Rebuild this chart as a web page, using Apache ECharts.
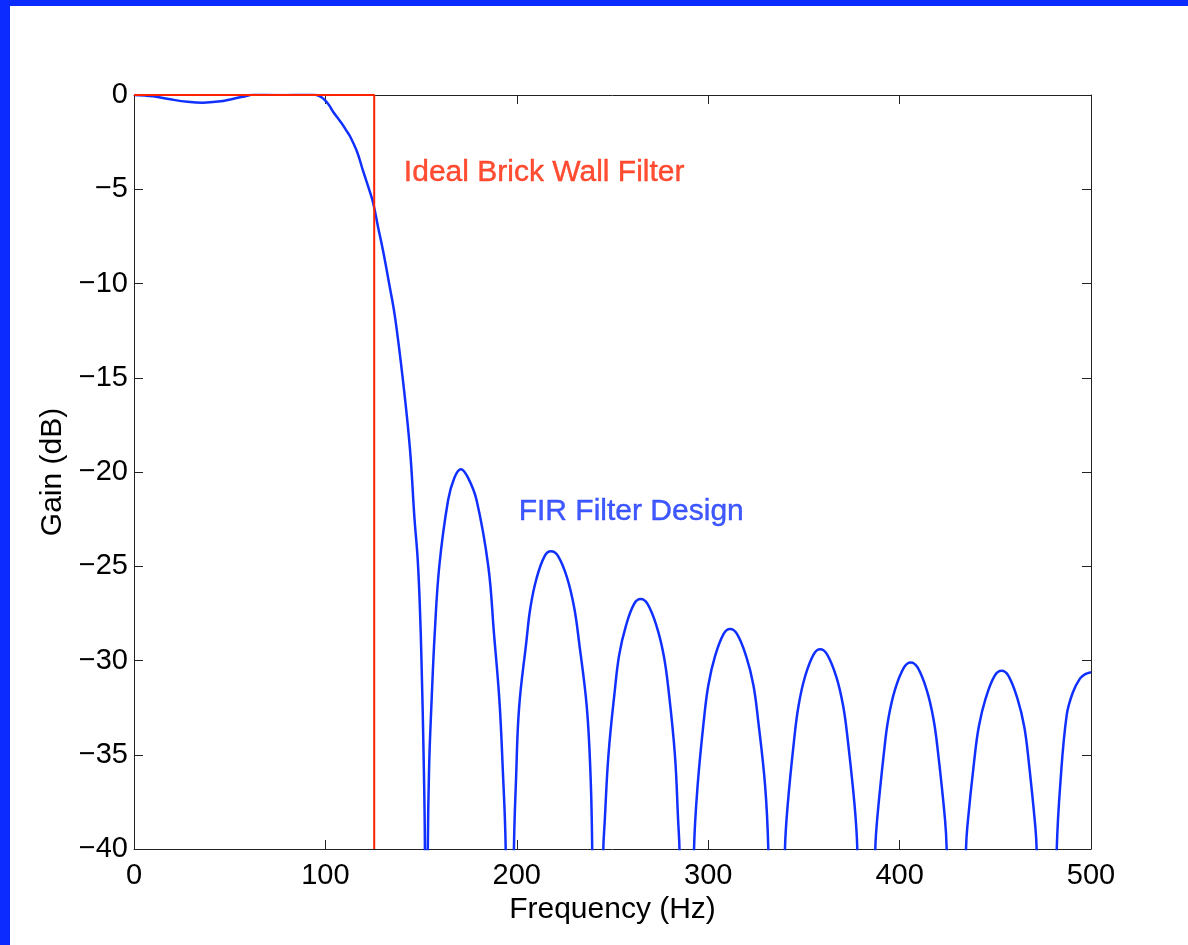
<!DOCTYPE html>
<html>
<head>
<meta charset="utf-8">
<title>FIR Filter Design vs Ideal Brick Wall Filter</title>
<script src="https://cdn.jsdelivr.net/npm/echarts@6.0.0/dist/echarts.min.js"></script>
<style>
  html, body { margin: 0; padding: 0; background: #fff; }
  #frame { position: relative; width: 1188px; height: 945px; overflow: hidden; }
  /* blue slide frame on top and left */
  #frame::before { content: ''; position: absolute; left: 0; top: 0; width: 100%; height: 6px; background: #0b2bff; z-index: 2; }
  #frame::after { content: ''; position: absolute; left: 0; top: 0; width: 10px; height: 100%; background: #0b2bff; z-index: 2; }
  #chart { width: 1188px; height: 945px; }
</style>
</head>
<body>
<div id="frame"><div id="chart"></div></div>
<script>
// FIR response (Hz, dB); nulls go below -40 and get clipped
const firFreq = [
  0, 10, 19, 28, 36, 44, 52, 57, 60.6, 68, 78, 88, 95.4,
  98, 100, 102, 104.1, 106.3, 108.5, 110.7, 112.9, 116.5, 119.6, 122.5, 124.9, 127.5, 130.2, 133.3,
  136.4, 140.7, 144.2, 146.5, 148.2, 149.3, 150.2, 151.3, 152.0, 152.5,
  153.5, 154.2, 155.5, 157.1, 159.5, 164.1, 167.4, 170.8, 174.5, 179.0, 185.1, 188.1, 190.9, 192.6, 194.2, 196.4,
  198.5, 199.6, 201.2, 205.0, 207.1, 210.3, 214.6, 217.8, 221.5, 226.4, 230.0, 232.5, 236.6, 238.6, 239.4, 242.3,
  245.2, 245.9, 247.9, 251.3, 253.5, 256.9, 261.3, 264.7, 268.3, 273.1, 276.7, 279.2, 282.6, 284.3, 285.0, 288.8,
  292.6, 294.5, 297.8, 300.1, 303.5, 308.0, 311.4, 315.1, 319.9, 323.6, 326.0, 329.7, 331.4, 335.8,
  340.1, 341.5, 344.9, 347.2, 350.6, 355.1, 358.5, 362.1, 366.9, 370.5, 372.9, 376.5, 377.9, 382.6,
  387.3, 388.3, 391.8, 394.1, 397.6, 402.3, 405.8, 409.4, 414.1, 417.7, 420.1, 423.7, 424.6, 429.7,
  434.7, 435.4, 439.0, 441.4, 445.0, 449.7, 453.3, 456.8, 461.5, 465.1, 467.4, 470.9, 471.6, 476.9,
  482.1, 484.0, 487.3, 490.5, 494.3, 497.0, 500.0
];
const firGain = [
  0, -0.07, -0.23, -0.36, -0.41, -0.35, -0.2, -0.09, 0, 0.12, 0.16, 0.08, 0,
  -0.12, -0.3, -0.55, -0.9, -1.2, -1.5, -1.85, -2.2, -3.0, -4.0, -4.9, -5.7, -7.0, -8.3, -10.0,
  -11.8, -15.3, -18.8, -22.4, -24.6, -27.0, -30.0, -35.0, -40.0, -60,
  -40, -35.6, -32.1, -28.6, -25.0, -21.5, -20.3, -19.85, -20.3, -21.5, -25.0, -28.6, -32.1, -35.6, -40, -60,
  -40, -36.3, -32.5, -29.0, -27.2, -25.65, -24.45, -24.2, -24.45, -25.65, -27.2, -29.0, -32.5, -36.3, -40, -60,
  -40, -38.6, -35.0, -31.5, -29.7, -28.2, -27.0, -26.74, -27.0, -28.2, -29.7, -31.5, -35.0, -38.5, -40, -60,
  -40, -36.6, -33.1, -31.3, -29.8, -28.6, -28.33, -28.6, -29.8, -31.3, -33.1, -36.6, -40, -60,
  -40, -37.7, -34.2, -32.4, -30.85, -29.67, -29.4, -29.67, -30.85, -32.4, -34.2, -37.7, -40, -60,
  -40, -38.4, -34.9, -33.1, -31.55, -30.37, -30.1, -30.37, -31.55, -33.1, -34.9, -38.4, -40, -60,
  -40, -38.8, -35.3, -33.5, -32.0, -30.8, -30.54, -30.8, -32.0, -33.5, -35.3, -38.8, -40, -60,
  -40, -36.5, -32.9, -31.7, -30.95, -30.72, -30.62
];

// ideal brick wall: flat at 0 dB up to the cutoff, then straight down
const idealFreq = [0, 125.5, 125.5];
const idealGain = [0, 0, -40];

// in-plot text labels, anchored at their left edge (Hz, dB)
const labelText = ['Ideal Brick Wall Filter', 'FIR Filter Design'];
const labelFreq = [141, 201];
const labelGain = [-4.1, -22.1];

const BLUE = '#1030ff';
const RED = '#ff2200';
const FONT = '"Liberation Sans", Arial, Helvetica, sans-serif';

const zip = (xs, ys) => xs.map((x, i) => [x, ys[i]]);
const minus = v => String(v).replace('-', '\u2212');

const chart = echarts.init(document.getElementById('chart'));

const axisLine = { show: true, onZero: false, lineStyle: { color: '#222', width: 1 } };
const tick = { show: true, inside: true, length: 9, lineStyle: { color: '#222', width: 1 } };

const option = {
  animation: false,
  backgroundColor: '#fff',
  textStyle: { fontFamily: FONT },
  grid: { left: 134, top: 95, width: 957, height: 754, containLabel: false },
  xAxis: [
    {
      type: 'value', min: 0, max: 500, interval: 100, position: 'bottom',
      name: 'Frequency (Hz)', nameLocation: 'middle', nameGap: 41,
      nameTextStyle: { fontSize: 30, color: '#000', fontFamily: FONT },
      axisLine: axisLine, axisTick: tick, splitLine: { show: false },
      axisLabel: { fontSize: 29, color: '#000', margin: 12, fontFamily: FONT }
    },
    {
      type: 'value', min: 0, max: 500, interval: 100, position: 'top',
      axisLine: axisLine, axisTick: tick, splitLine: { show: false },
      axisLabel: { show: false }
    }
  ],
  yAxis: [
    {
      type: 'value', min: -40, max: 0, interval: 5, position: 'left',
      name: 'Gain (dB)', nameLocation: 'middle', nameGap: 58, nameRotate: 90,
      nameTextStyle: { fontSize: 30, color: '#000', fontFamily: FONT },
      axisLine: axisLine, axisTick: tick, splitLine: { show: false },
      axisLabel: { fontSize: 29, color: '#000', margin: 6, fontFamily: FONT, formatter: minus }
    },
    {
      type: 'value', min: -40, max: 0, interval: 5, position: 'right',
      axisLine: axisLine, axisTick: tick, splitLine: { show: false },
      axisLabel: { show: false }
    }
  ],
  series: [
    {
      name: 'FIR Filter Design',
      type: 'line',
      data: zip(firFreq, firGain),
      showSymbol: false,
      smooth: 0.4,
      clip: true,
      lineStyle: { color: BLUE, width: 2.5 },
      z: 2
    },
    {
      name: 'Ideal Brick Wall Filter',
      type: 'line',
      data: zip(idealFreq, idealGain),
      showSymbol: false,
      clip: true,
      lineStyle: { color: RED, width: 2 },
      z: 3
    },
    {
      type: 'scatter',
      symbolSize: 0,
      silent: true,
      // per-label colour set on each item
      data: labelText.map((t, i) => {
        const c = i === 0 ? RED : BLUE;
        return {
          name: t,
          value: [labelFreq[i], labelGain[i]],
          label: { color: c, textBorderColor: c, textBorderWidth: 0.4 }
        };
      }),
      label: {
        show: true,
        position: 'right',
        distance: 0,
        formatter: p => p.name,
        fontSize: 30,
        fontFamily: FONT
      },
      z: 4
    }
  ]
};

chart.setOption(option);

window.addEventListener('resize', () => {
  chart.resize();
});
</script>
</body>
</html>
